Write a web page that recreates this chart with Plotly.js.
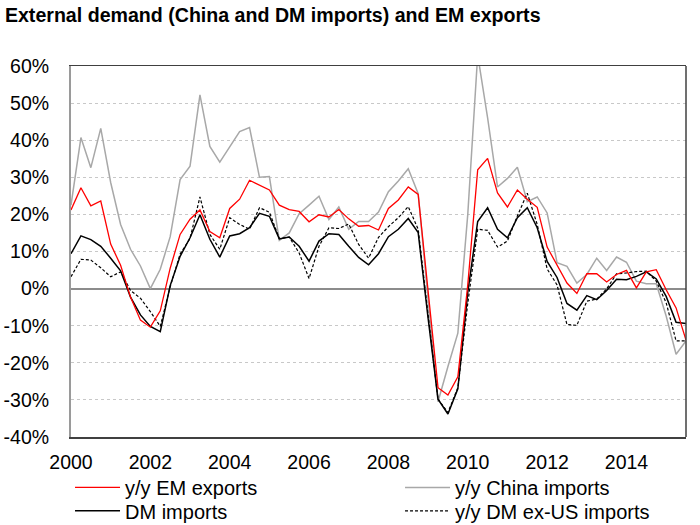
<!DOCTYPE html>
<html>
<head>
<meta charset="utf-8">
<script src="https://cdn.plot.ly/plotly-3.0.1.min.js"></script>
<style>html,body{margin:0;padding:0;background:#fff;}#chart{width:700px;height:525px;}</style>
</head>
<body>
<div id="chart"></div>
<script>
const startYear = 2000;
const emExports = [21.2,27.2,22.3,23.6,12.0,6.3,-2.3,-8.5,-10.4,-6.0,5.5,14.6,18.7,21.2,15.4,13.7,21.6,24.1,29.2,27.9,26.6,22.5,21.3,20.8,18.0,19.9,19.3,21.3,18.8,16.8,17.0,15.8,21.6,23.9,27.4,25.4,-1.0,-26.7,-28.7,-23.8,1.0,32.0,35.1,25.8,22.0,26.6,24.1,21.9,11.2,6.2,1.5,-1.3,4.0,4.0,1.8,3.8,4.9,0.2,4.5,5.1,-0.3,-5.2,-13.9];
const chinaImports = [22.5,40.7,32.6,43.2,28.6,17.3,10.6,6.1,0.0,5.2,14.0,29.4,33.0,52.2,38.3,34.1,38.2,42.3,43.4,30.0,30.2,13.0,15.0,20.2,22.5,24.9,18.6,22.0,16.0,18.1,18.1,20.6,26.1,29.0,32.3,25.6,-3.0,-30.5,-21.0,-12.0,20.0,63.0,46.0,27.4,29.7,32.7,23.4,24.7,20.4,7.0,6.0,1.5,3.8,8.2,4.9,8.5,7.1,2.0,1.3,1.3,-7.4,-17.7,-14.1];
const dmImports = [9.4,14.2,13.2,11.4,8.2,4.8,-2.3,-7.1,-10.2,-11.6,0.8,8.7,13.7,19.9,13.3,8.5,14.2,14.8,16.4,20.3,19.5,13.4,13.9,11.4,7.4,12.8,14.8,14.6,11.4,8.4,6.4,9.4,14.0,16.0,18.9,15.1,-8.0,-29.8,-33.8,-27.0,-1.0,18.1,21.8,16.0,13.7,19.1,21.8,16.4,7.3,3.0,-4.0,-5.8,-1.9,-3.0,-0.5,2.5,2.4,3.3,4.5,2.6,-2.1,-9.1,-9.4];
const dmExUsImports = [3.2,7.9,7.7,5.6,3.2,4.5,-0.5,-2.6,-6.2,-10.2,0.5,9.3,13.5,24.7,14.6,10.6,19.1,17.3,16.0,21.8,20.6,13.5,13.9,9.6,2.7,11.4,16.4,16.2,17.4,11.9,8.2,13.8,16.7,19.1,22.1,16.0,-7.0,-29.8,-33.4,-26.7,-4.0,16.0,15.7,11.2,12.8,19.6,25.7,17.3,5.3,1.0,-9.7,-9.9,-3.4,-2.8,-0.1,4.0,4.2,4.6,4.7,2.0,-3.8,-14.1,-14.1];

const seriesNames = ["y/y EM exports", "y/y China imports", "DM imports", "y/y DM ex-US imports"];
const xTickVals = [2000, 2002, 2004, 2006, 2008, 2010, 2012, 2014];
const xTickText = ["2000", "2002", "2004", "2006", "2008", "2010", "2012", "2014"];
const yTickVals = [-40, -30, -20, -10, 0, 10, 20, 30, 40, 50, 60];
const yTickText = ["-40%", "-30%", "-20%", "-10%", "0%", "10%", "20%", "30%", "40%", "50%", "60%"];

const xs = emExports.map((_, i) => startYear + i * 0.25);

const font = "Liberation Sans, Arial, sans-serif";

const traces = [
  {x: xs, y: chinaImports, name: seriesNames[1], type: "scatter", mode: "lines", legend: "legend2",
   line: {color: "#a8a8a8", width: 1.5}},
  {x: xs, y: dmExUsImports, name: seriesNames[3], type: "scatter", mode: "lines", legend: "legend4",
   line: {color: "#000000", width: 1.2, dash: "3px,2px"}},
  {x: xs, y: dmImports, name: seriesNames[2], type: "scatter", mode: "lines", legend: "legend3",
   line: {color: "#000000", width: 1.5}},
  {x: xs, y: emExports, name: seriesNames[0], type: "scatter", mode: "lines", legend: "legend",
   line: {color: "#ff0000", width: 1.3}}
];

function leg(x, y) {
  return {orientation: "h", x: x, xanchor: "left", y: y, yanchor: "middle",
          itemwidth: 45, bgcolor: "rgba(0,0,0,0)", borderwidth: 0,
          font: {family: font, size: 20, color: "#000"}};
}

const layout = {
  width: 700, height: 525,
  paper_bgcolor: "#ffffff", plot_bgcolor: "#ffffff",
  margin: {l: 71, r: 14, t: 66, b: 88, autoexpand: false},
  font: {family: font, size: 19.5, color: "#000"},
  title: {text: "<b>External demand (China and DM imports) and EM exports</b>",
          x: 0.007, xanchor: "left", xref: "container",
          y: 0.972, yanchor: "middle", yref: "container",
          font: {family: font, size: 19.6, color: "#000"}},
  showlegend: true,
  legend: leg(-0.0016, -0.136),
  legend2: leg(0.535, -0.136),
  legend3: leg(-0.0016, -0.199),
  legend4: leg(0.535, -0.199),
  xaxis: {range: [2000, 2015.5], tickvals: xTickVals, ticktext: xTickText,
          showgrid: false, zeroline: false, showline: true, mirror: true,
          linecolor: "#404040", linewidth: 1.5, ticks: "", ticklabelstandoff: 7,
          tickfont: {family: font, size: 19.5}},
  yaxis: {range: [-40, 60], tickvals: yTickVals, ticktext: yTickText,
          showgrid: true, gridcolor: "#c8c8c8", gridwidth: 1, griddash: "dot",
          zeroline: true, zerolinecolor: "#8c8c8c", zerolinewidth: 2,
          showline: true, linecolor: "#9a9a9a", linewidth: 2, ticks: "",
          ticklabelstandoff: 16, tickfont: {family: font, size: 19.5}},
  shapes: [
    {type: "line", xref: "paper", yref: "paper", x0: 1, x1: 1, y0: 0, y1: 1,
     line: {color: "#404040", width: 1.5}}
  ]
};

Plotly.newPlot("chart", traces, layout, {displayModeBar: false, staticPlot: true});
</script>
</body>
</html>
